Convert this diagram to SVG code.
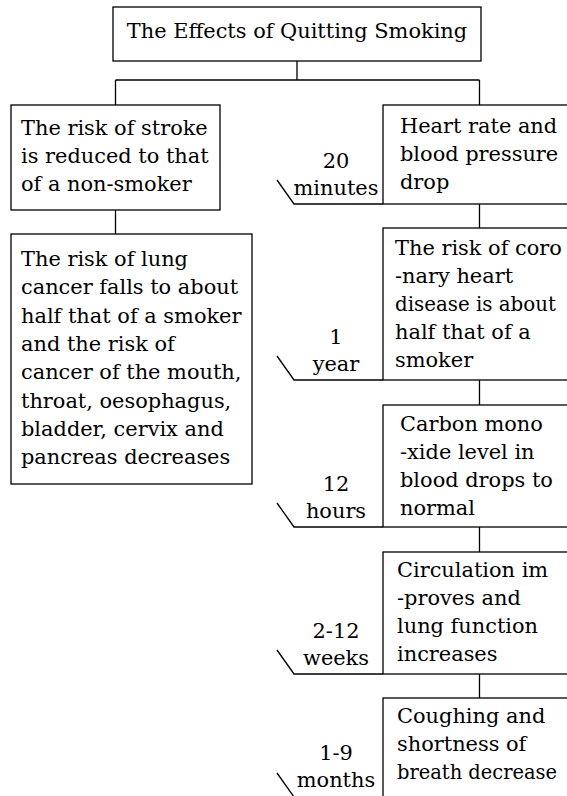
<svg xmlns="http://www.w3.org/2000/svg" width="567" height="796" viewBox="0 0 567 796">
<style>
.box{fill:#fff;stroke:#000;stroke-width:1.3}
.ln{fill:none;stroke:#000;stroke-width:1.3}
.t{font-family:"DejaVu Serif",serif;font-size:20.9px;fill:#000}
.m{text-anchor:middle}
</style>
<rect width="567" height="796" fill="#fff"/>
<g id="connectors" class="ln">
<path d="M297,61 V80 M115.5,80 H479.5 M115.5,80 V105 M479.5,80 V105"/>
<path d="M115.5,210 V234"/>
<path d="M479.5,204 V228 M479.5,380 V405 M479.5,527 V552 M479.5,674 V698"/>
</g>
<g id="title">
<rect class="box" x="113" y="7" width="368" height="54"/>
<text class="t m" x="297" y="37.5">The Effects of Quitting Smoking</text>
</g>
<g id="stroke">
<rect class="box" x="11" y="105" width="209" height="105"/>
<text class="t" x="21" y="135">The risk of stroke</text>
<text class="t" x="21" y="163">is reduced to that</text>
<text class="t" x="21" y="191">of a non-smoker</text>
</g>
<g id="cancer">
<rect class="box" x="11" y="234" width="241" height="250"/>
<text class="t" x="21" y="266">The risk of lung</text>
<text class="t" x="21" y="294.3">cancer falls to about</text>
<text class="t" x="21" y="322.6">half that of a smoker</text>
<text class="t" x="21" y="350.9">and the risk of</text>
<text class="t" x="21" y="379.2">cancer of the mouth,</text>
<text class="t" x="21" y="407.5">throat, oesophagus,</text>
<text class="t" x="21" y="435.8">bladder, cervix and</text>
<text class="t" x="21" y="464">pancreas decreases</text>
</g>
<g id="heart-rate">
<rect class="box" x="383" y="105" width="220" height="99"/>
<path class="ln" d="M277,180 L294,204 H383"/>
<text class="t m" x="336" y="168">20</text>
<text class="t m" x="336" y="195">minutes</text>
<text class="t" x="400" y="133">Heart rate and</text>
<text class="t" x="400" y="161">blood pressure</text>
<text class="t" x="400" y="189">drop</text>
</g>
<g id="coronary">
<rect class="box" x="383" y="228" width="220" height="152"/>
<path class="ln" d="M277,356 L294,380 H383"/>
<text class="t m" x="336" y="344">1</text>
<text class="t m" x="336" y="371">year</text>
<text class="t" x="395" y="255">The risk of coro</text>
<text class="t" x="395" y="283">-nary heart</text>
<text class="t" x="395" y="311" textLength="161" lengthAdjust="spacingAndGlyphs">disease is about</text>
<text class="t" x="395" y="339">half that of a</text>
<text class="t" x="395" y="367">smoker</text>
</g>
<g id="carbon">
<rect class="box" x="383" y="405" width="220" height="122"/>
<path class="ln" d="M277,503 L294,527 H383"/>
<text class="t m" x="336" y="491">12</text>
<text class="t m" x="336" y="518">hours</text>
<text class="t" x="400" y="431">Carbon mono</text>
<text class="t" x="400" y="459">-xide level in</text>
<text class="t" x="400" y="487">blood drops to</text>
<text class="t" x="400" y="515">normal</text>
</g>
<g id="circulation">
<rect class="box" x="383" y="552" width="220" height="122"/>
<path class="ln" d="M277,650 L294,674 H383"/>
<text class="t m" x="336" y="638">2-12</text>
<text class="t m" x="336" y="665">weeks</text>
<text class="t" x="397" y="577">Circulation im</text>
<text class="t" x="397" y="605">-proves and</text>
<text class="t" x="397" y="633">lung function</text>
<text class="t" x="397" y="661">increases</text>
</g>
<g id="coughing">
<rect class="box" x="383" y="698" width="220" height="99"/>
<path class="ln" d="M277,773 L294,797 H383"/>
<text class="t m" x="336" y="760">1-9</text>
<text class="t m" x="336" y="787">months</text>
<text class="t" x="397" y="723">Coughing and</text>
<text class="t" x="397" y="751">shortness of</text>
<text class="t" x="397" y="779" textLength="160" lengthAdjust="spacingAndGlyphs">breath decrease</text>
</g>
</svg>
